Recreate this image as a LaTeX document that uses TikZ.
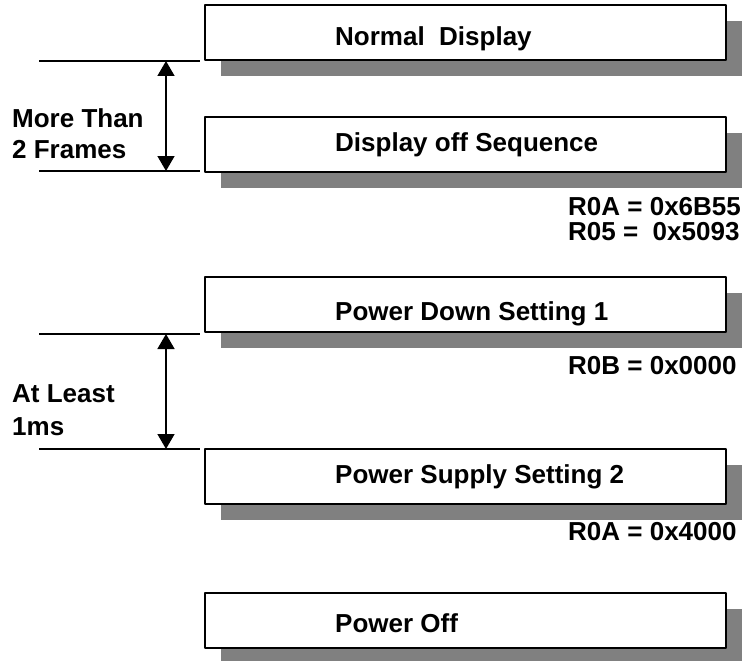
\documentclass[tikz,border=0pt]{standalone}
\usepackage{fontspec}
\setmainfont{Liberation Sans}
\usetikzlibrary{arrows.meta,shadows}

\begin{document}
\begin{tikzpicture}[x=1pt,y=-1pt,line join=round,
  font=\bfseries\fontsize{26}{31}\selectfont,
  >={Triangle[width=17pt,length=15pt]},
  stage/.style={draw,line width=2pt,fill=white,minimum width=521pt,minimum height=55pt,inner sep=0pt,
    drop shadow={shadow xshift=16pt,shadow yshift=-16pt,fill=black!50,opacity=1}},
  txt/.style={anchor=base west,inner sep=0pt,align=left},
  reg/.style={txt,font=\bfseries\fontsize{26}{25}\selectfont},
  mark line/.style={line width=1.5pt},
  span/.style={<->,line width=1.5pt}]
\useasboundingbox (0,0) rectangle (745,661);
% steps of the sequence
\node[stage] (normal) at (465.5,33) {};
\node[stage] (dispoff) at (465.5,144.5) {};
\node[stage] (pwrdown) at (465.5,304.5) {};
\node[stage] (pwrsupply) at (465.5,476) {};
\node[stage] (pwroff) at (465.5,620) {};
\node[txt] (normaltxt) at (335,46) {Normal\ \ Display};
\node[txt] (dispofftxt) at (335,151) {Display off Sequence};
\node[txt] (pwrdowntxt) at (335,320) {Power Down Setting 1};
\node[txt] (pwrsupplytxt) at (335,483) {Power Supply Setting 2};
\node[txt] (pwrofftxt) at (335,632) {Power Off};
% register values (base = last line)
\node[reg] (regA) at (568,240) {R0A = 0x6B55\\R05 =\ \ 0x5093};
\node[reg] (regB) at (568,374) {R0B = 0x0000};
\node[reg] (regC) at (568,540) {R0A = 0x4000};
% timing marks
\foreach \n/\y in {t1/61,t2/171,t3/334,t4/449}{
  \coordinate (\n) at (166,\y);
  \draw[mark line] (39,\y) -- (200,\y);
}
\draw[span] (t1) -- (t2);
\draw[span] (t3) -- (t4);
\node[txt] (frames) at (12,158) {More Than\\2 Frames};
\node[txt,font=\bfseries\fontsize{26}{33}\selectfont] (least) at (12,435) {At Least\\1ms};
\end{tikzpicture}
\end{document}
